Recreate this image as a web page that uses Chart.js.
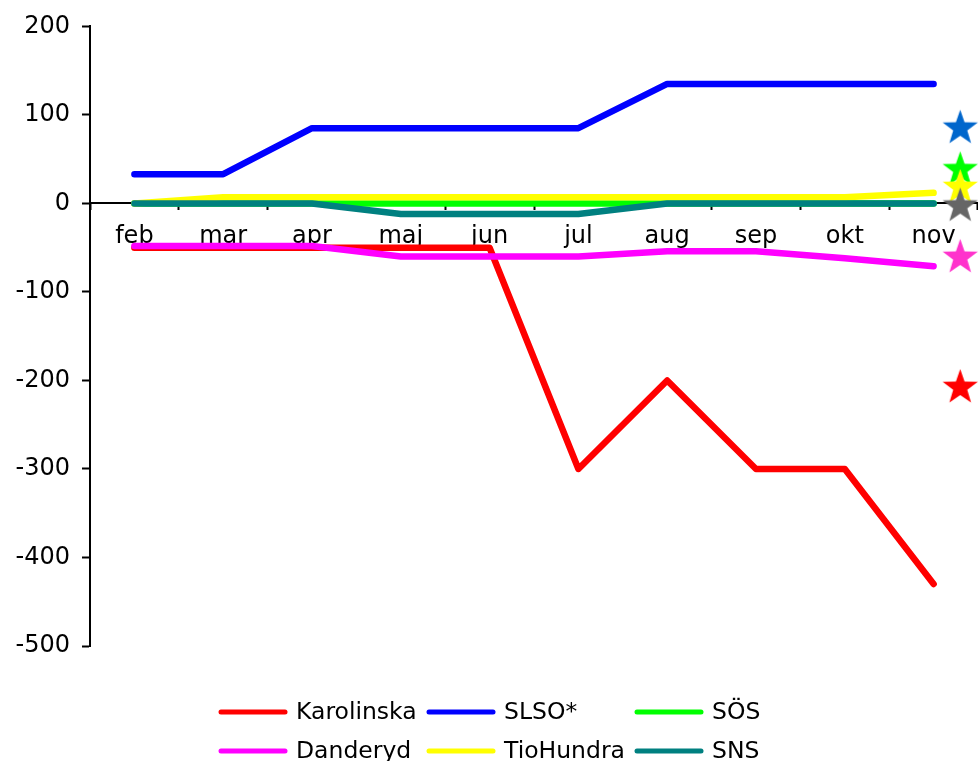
<!DOCTYPE html>
<html>
<head>
<meta charset="utf-8">
<script src="https://cdn.jsdelivr.net/npm/chart.js@4/dist/chart.umd.min.js"></script>
<style>
  html, body { margin: 0; padding: 0; background: #ffffff; }
  #wrap { width: 978px; height: 761px; position: relative; }
</style>
</head>
<body>
<div id="wrap"><canvas id="chart" width="978" height="761"></canvas></div>
<script>
// Months on the category axis
const months = ['feb', 'mar', 'apr', 'maj', 'jun', 'jul', 'aug', 'sep', 'okt', 'nov'];

// Monthly results per unit
const karolinska = [-50, -50, -50, -50, -50, -300, -200, -300, -300, -430];
const slso       = [33, 33, 85, 85, 85, 85, 135, 135, 135, 135];
const sos        = [0, 0, 0, 0, 0, 0, 0, 0, 0, 0];
const danderyd   = [-48, -48, -48, -60, -60, -60, -54, -54, -62, -71];
const tiohundra  = [0, 7, 7, 7, 7, 7, 7, 7, 7, 12];
const sns        = [0, 0, 0, -12, -12, -12, 0, 0, 0, 0];

// Year-end targets, one star per unit
const targetValues = [85, 38, 18, -3, -61, -208];
const targetColors = ['#0066cc', '#00ff00', '#ffff00', '#666666', '#ff33cc', '#ff0000'];
// Slot for the target stars, in category-index units just past the last month
const targetSlot = 9.3;

// Value axis ticks
const yTicks = [200, 100, 0, -100, -200, -300, -400, -500];

const FONT = "'DejaVu Sans', 'Liberation Sans', sans-serif";

function makeStar(color, R) {
  const s = Math.ceil(R * 2 + 2);
  const c = document.createElement('canvas');
  c.width = s; c.height = s;
  const g = c.getContext('2d');
  g.translate(s / 2, s / 2);
  g.beginPath();
  for (let i = 0; i < 10; i++) {
    const r = i % 2 ? R * 0.4 : R;
    const a = -Math.PI / 2 + i * Math.PI / 5;
    const px = r * Math.cos(a), py = r * Math.sin(a);
    if (i === 0) g.moveTo(px, py); else g.lineTo(px, py);
  }
  g.closePath();
  g.fillStyle = color;
  g.fill();
  return c;
}

const series = [
  { label: 'Karolinska', data: karolinska, color: '#ff0000' },
  { label: 'SLSO*',      data: slso,       color: '#0000ff' },
  { label: 'SÖS',        data: sos,        color: '#00ff00' },
  { label: 'Danderyd',   data: danderyd,   color: '#ff00ff' },
  { label: 'TioHundra',  data: tiohundra,  color: '#ffff00' },
  { label: 'SNS',        data: sns,        color: '#008080' }
];

const lineDatasets = series.map((s, i) => ({
  type: 'line',
  label: s.label,
  data: s.data,
  borderColor: s.color,
  backgroundColor: s.color,
  borderWidth: 6.5,
  borderCapStyle: 'round',
  borderJoinStyle: 'round',
  pointRadius: 0,
  tension: 0,
  fill: false,
  xAxisID: 'x',
  yAxisID: 'y',
  order: series.length - i + 1
}));

const starDataset = {
  type: 'scatter',
  label: 'targets',
  data: targetValues.map(v => ({ x: targetSlot, y: v })),
  pointStyle: targetColors.map(c => makeStar(c, 18.5)),
  pointRadius: 19,
  pointHoverRadius: 19,
  backgroundColor: targetColors,
  borderColor: targetColors,
  xAxisID: 'xs',
  yAxisID: 'y',
  clip: false,
  order: 0
};

// Legend in a 3-column grid under the plot
const gridLegend = {
  id: 'gridLegend',
  afterDraw(chart) {
    const ctx = chart.ctx;
    const cols = [219, 427, 635];
    const rows = [712, 751];
    ctx.save();
    ctx.font = '23.5px ' + FONT;
    ctx.textBaseline = 'middle';
    ctx.textAlign = 'left';
    series.forEach((s, i) => {
      const x = cols[i % 3];
      const y = rows[Math.floor(i / 3)];
      ctx.strokeStyle = s.color;
      ctx.lineWidth = 5;
      ctx.lineCap = 'round';
      ctx.beginPath();
      ctx.moveTo(x + 2, y);
      ctx.lineTo(x + 66, y);
      ctx.stroke();
      ctx.fillStyle = '#000000';
      ctx.fillText(s.label, x + 77, y + 1);
    });
    ctx.restore();
  }
};

new Chart(document.getElementById('chart'), {
  data: {
    labels: months,
    datasets: [...lineDatasets, starDataset]
  },
  options: {
    responsive: false,
    animation: false,
    events: [],
    layout: { autoPadding: false, padding: { top: 25, bottom: 115, left: 0, right: 0 } },
    plugins: {
      legend: { display: false },
      title: { display: false },
      tooltip: { enabled: false }
    },
    scales: {
      x: {
        type: 'category',
        position: { y: 0 },
        offset: true,
        afterFit(scale) { scale.paddingLeft = 0; scale.paddingRight = 0; },
        grid: {
          offset: true,
          drawOnChartArea: false,
          drawTicks: true,
          tickLength: 6,
          tickColor: '#000000',
          tickWidth: 2
        },
        border: { display: true, color: '#000000', width: 2 },
        ticks: {
          color: '#000000',
          font: { family: FONT, size: 24 },
          padding: 13,
          maxRotation: 0,
          autoSkip: false
        }
      },
      xs: {
        type: 'linear',
        display: false,
        min: -0.5,
        max: 9.5
      },
      y: {
        type: 'linear',
        position: 'left',
        min: -500,
        max: 200,
        afterBuildTicks(scale) {
          scale.ticks = yTicks.map(v => ({ value: v }));
        },
        afterFit(scale) { scale.width = 90; },
        grid: {
          drawOnChartArea: false,
          drawTicks: true,
          tickLength: 8,
          tickColor: '#000000',
          tickWidth: 2
        },
        border: { display: true, color: '#000000', width: 2 },
        ticks: {
          color: '#000000',
          font: { family: FONT, size: 24 },
          padding: 12
        }
      }
    }
  },
  plugins: [gridLegend]
});
</script>
</body>
</html>
